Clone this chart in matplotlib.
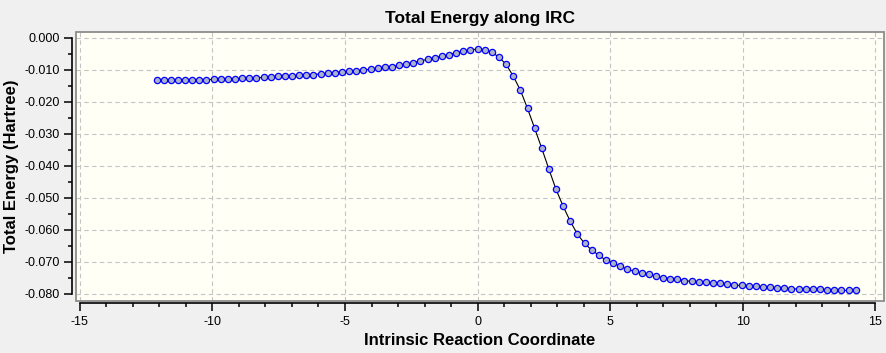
import matplotlib
matplotlib.use("Agg")
import matplotlib.pyplot as plt
from matplotlib.patches import Rectangle
from matplotlib.ticker import MultipleLocator

plt.rcParams['font.family'] = ['Liberation Sans', 'DejaVu Sans']
plt.rcParams['axes.unicode_minus'] = False

# IRC path: reaction coordinate and total energy (Hartree)
coord = [-12.110, -11.840, -11.571, -11.302, -11.033, -10.764, -10.495, -10.226,
         -9.957, -9.688, -9.419, -9.149, -8.880, -8.611, -8.342, -8.073,
         -7.804, -7.535, -7.266, -6.997, -6.728, -6.458, -6.189, -5.920,
         -5.651, -5.382, -5.113, -4.844, -4.575, -4.306, -4.037, -3.767,
         -3.498, -3.229, -2.960, -2.691, -2.422, -2.153, -1.884, -1.615,
         -1.346, -1.076, -0.807, -0.538, -0.269, 0.000, 0.269, 0.538,
         0.807, 1.076, 1.346, 1.615, 1.884, 2.153, 2.422, 2.691,
         2.960, 3.229, 3.498, 3.767, 4.037, 4.306, 4.575, 4.844,
         5.113, 5.382, 5.651, 5.920, 6.189, 6.458, 6.728, 6.997,
         7.266, 7.535, 7.804, 8.073, 8.342, 8.611, 8.880, 9.149,
         9.419, 9.688, 9.957, 10.226, 10.495, 10.764, 11.033, 11.302,
         11.571, 11.840, 12.110, 12.379, 12.648, 12.917, 13.186, 13.455,
         13.724, 13.993, 14.262]
energy = [-0.0133, -0.0133, -0.0133, -0.0132, -0.0132, -0.0132, -0.0131, -0.0131,
          -0.0130, -0.0129, -0.0129, -0.0128, -0.0127, -0.0126, -0.0125, -0.0124,
          -0.0122, -0.0121, -0.0120, -0.0119, -0.0118, -0.0116, -0.0115, -0.0113,
          -0.0111, -0.0109, -0.0107, -0.0105, -0.0103, -0.0101, -0.0098, -0.0095,
          -0.0093, -0.0090, -0.0086, -0.0082, -0.0078, -0.0073, -0.0067, -0.0062,
          -0.0058, -0.0053, -0.0047, -0.0042, -0.0037, -0.0036, -0.0038, -0.0045,
          -0.0061, -0.0083, -0.0120, -0.0164, -0.0221, -0.0283, -0.0346, -0.0411,
          -0.0474, -0.0527, -0.0574, -0.0614, -0.0643, -0.0664, -0.0680, -0.0696,
          -0.0705, -0.0714, -0.0724, -0.0730, -0.0736, -0.0739, -0.0746, -0.0750,
          -0.0753, -0.0755, -0.0759, -0.0762, -0.0763, -0.0764, -0.0767, -0.0768,
          -0.0771, -0.0774, -0.0774, -0.0777, -0.0777, -0.0780, -0.0780, -0.0783,
          -0.0783, -0.0784, -0.0786, -0.0786, -0.0787, -0.0787, -0.0789, -0.0789,
          -0.0790, -0.0790, -0.0790]

xticks = [-15, -10, -5, 0, 5, 10, 15]
yticks = [0.0, -0.01, -0.02, -0.03, -0.04, -0.05, -0.06, -0.07, -0.08]
yticklabels = ["0.000", "-0.010", "-0.020", "-0.030", "-0.040",
               "-0.050", "-0.060", "-0.070", "-0.080"]

fig = plt.figure(figsize=(8.86, 3.53), dpi=100, facecolor="#f0f0f0")
ax = fig.add_axes([0.0854, 0.1482, 0.9123, 0.762], facecolor="#fffff6")

ax.plot(coord, energy, color="black", linewidth=0.8, marker="o",
        markersize=4.5, markerfacecolor="#aeb2c6", markeredgecolor="#0000ff",
        markeredgewidth=0.9, zorder=3)

ax.set_xlim(-15.16, 15.33)
ax.set_ylim(-0.0822, 0.00188)

ax.set_xticks(xticks)
ax.set_xticklabels([str(t) for t in xticks])
ax.xaxis.set_minor_locator(MultipleLocator(1))
ax.set_yticks(yticks)
ax.set_yticklabels(yticklabels)
ax.yaxis.set_minor_locator(MultipleLocator(0.005))

ax.grid(True, which="major", color="#c4c4c4", linestyle=(0, (4, 3)), linewidth=0.8)

# offset axis lines, separate from the plot box
for side in ["top", "right"]:
    ax.spines[side].set_visible(False)
ax.spines["left"].set_position(("outward", 2.7))
ax.spines["left"].set_bounds(-0.08, 0.0)
ax.spines["bottom"].set_position(("outward", 1.9))
ax.spines["bottom"].set_bounds(-15, 15)
for side in ["left", "bottom"]:
    ax.spines[side].set_linewidth(1.2)
    ax.spines[side].set_color("black")

ax.add_patch(Rectangle((0, 0), 1, 1, transform=ax.transAxes, fill=False,
                       edgecolor="#8c8c8c", linewidth=1.3, clip_on=False, zorder=4))

ax.tick_params(axis="both", which="major", length=5.8, width=1.1, labelsize=9,
               colors="black", pad=3)
ax.tick_params(axis="both", which="minor", length=3.2, width=1.1)

ax.set_title("Total Energy along IRC", fontsize=12.5, fontweight="bold", pad=6)
ax.set_xlabel("Intrinsic Reaction Coordinate", fontsize=12, fontweight="bold",
              labelpad=4)
ax.set_ylabel("Total Energy (Hartree)", fontsize=12, fontweight="bold",
              labelpad=4)

fig.savefig("out.png", dpi=100, facecolor=fig.get_facecolor())
